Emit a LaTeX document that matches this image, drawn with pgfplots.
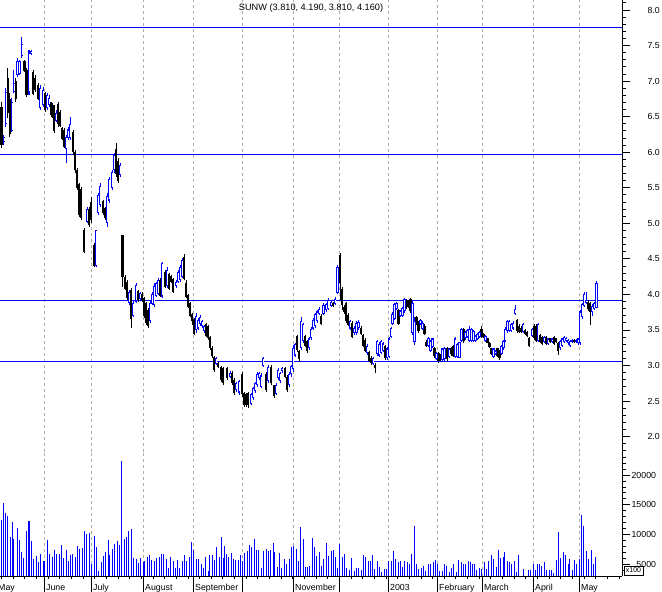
\documentclass[border=0pt]{standalone}
\usepackage{pgfplots}
\pgfplotsset{compat=1.18}
\usepackage{pgfplotstable}
\usepackage{fontspec}
\setmainfont{Liberation Sans}
\definecolor{gridgray}{RGB}{175,175,175}
\definecolor{barblue}{RGB}{0,0,255}

% down (black) bars: x o h l c
\pgfplotstableread{
x o h l c
1.5 6.64 6.70 6.06 6.10
8 7.05 7.18 6.48 6.55
10 6.75 6.83 6.21 6.25
16 7.00 7.04 6.71 6.75
24.5 7.28 7.30 7.13 7.14
26.5 7.15 7.18 6.78 6.80
33 7.13 7.16 6.80 6.82
35 7.05 7.08 6.85 6.87
38 6.95 6.97 6.73 6.75
45 6.83 6.85 6.57 6.60
51 6.70 6.71 6.49 6.52
52.5 6.66 6.69 6.48 6.50
54 6.60 6.66 6.27 6.30
58 6.68 6.71 6.35 6.40
60 6.57 6.59 6.35 6.37
62 6.34 6.35 6.17 6.19
64 6.31 6.34 6.06 6.08
73 6.28 6.31 5.96 6.00
75 6.00 6.03 5.71 5.75
77 5.75 5.78 5.47 5.50
79 5.55 5.57 5.09 5.12
81 5.48 5.51 5.05 5.08
84 4.90 4.93 4.58 4.60
89 5.20 5.23 4.95 4.97
91 5.30 5.37 5.00 5.05
94 4.70 4.72 4.38 4.40
103 5.32 5.33 5.12 5.14
105 5.22 5.23 5.05 5.07
116 6.05 6.13 5.65 5.70
118 5.88 5.92 5.57 5.60
122.5 4.84 4.84 4.10 4.25
125 4.25 4.27 4.06 4.08
127 4.18 4.20 3.92 3.95
131 4.06 4.09 3.53 3.65
138 4.05 4.06 3.90 3.92
142 4.01 4.03 3.90 3.92
144 3.95 3.97 3.67 3.70
146 3.88 3.90 3.57 3.60
148 3.78 3.81 3.53 3.56
160 4.20 4.23 3.97 3.98
165 4.32 4.34 4.09 4.10
169 4.28 4.30 4.06 4.08
171 4.26 4.27 4.16 4.17
173 4.21 4.23 4.02 4.04
184 4.52 4.57 4.20 4.22
186 4.16 4.20 3.95 3.97
188 3.99 4.00 3.81 3.82
190 3.88 3.90 3.68 3.70
192 3.72 3.74 3.57 3.62
194 3.66 3.67 3.43 3.45
206 3.58 3.60 3.40 3.42
208 3.55 3.57 3.36 3.38
210 3.40 3.42 3.22 3.24
212 3.25 3.27 3.11 3.13
214 3.12 3.14 2.91 2.94
218 3.03 3.05 2.96 2.98
221 2.98 2.99 2.77 2.80
223 2.96 2.98 2.73 2.75
227 2.96 2.98 2.80 2.82
232 2.90 2.92 2.73 2.76
234 2.80 2.82 2.59 2.61
242 2.88 2.91 2.56 2.60
244 2.62 2.63 2.42 2.45
246 2.60 2.62 2.42 2.45
248 2.62 2.63 2.40 2.44
266 2.88 2.91 2.63 2.66
271 2.98 3.01 2.73 2.76
274 2.72 2.73 2.54 2.57
285 2.97 2.98 2.82 2.84
287 2.84 2.87 2.63 2.66
297 3.42 3.43 3.19 3.22
299 3.20 3.22 3.05 3.09
305 3.42 3.43 3.26 3.28
307 3.35 3.36 3.18 3.20
321 3.70 3.72 3.57 3.58
333 3.88 3.90 3.82 3.83
340 4.56 4.58 3.92 4.16
342 4.08 4.10 3.78 3.85
344 3.82 3.85 3.72 3.75
346 3.88 3.90 3.60 3.62
348 3.71 3.74 3.55 3.57
352 3.60 3.62 3.38 3.40
361 3.53 3.55 3.43 3.44
363 3.43 3.45 3.26 3.28
365 3.36 3.38 3.19 3.21
369 3.19 3.21 3.05 3.07
371 3.11 3.13 3.01 3.04
375 3.01 3.03 2.90 2.96
385 3.27 3.29 3.08 3.10
398.5 3.78 3.80 3.57 3.59
406.5 3.92 3.94 3.80 3.82
408.5 3.89 3.92 3.81 3.82
410.5 3.93 3.95 3.74 3.76
416.5 3.68 3.70 3.57 3.58
418.5 3.60 3.62 3.46 3.48
424.5 3.56 3.58 3.43 3.44
426.5 3.33 3.36 3.26 3.27
434.5 3.25 3.26 3.11 3.13
438.5 3.17 3.19 3.04 3.06
440.5 3.14 3.16 3.06 3.08
447 3.25 3.26 3.07 3.09
451 3.25 3.26 3.14 3.16
453 3.28 3.29 3.12 3.13
463.5 3.52 3.53 3.32 3.34
481.5 3.52 3.55 3.39 3.40
483.5 3.45 3.46 3.39 3.40
487.5 3.38 3.39 3.31 3.32
489.5 3.32 3.33 3.25 3.26
491.5 3.24 3.25 3.15 3.16
497.5 3.24 3.25 3.12 3.13
499.5 3.21 3.22 3.08 3.10
517 3.64 3.66 3.46 3.48
519 3.56 3.58 3.46 3.47
521 3.53 3.55 3.46 3.47
525 3.50 3.51 3.43 3.44
527 3.47 3.48 3.40 3.41
529 3.39 3.40 3.26 3.28
534 3.56 3.58 3.36 3.38
536 3.55 3.58 3.33 3.35
540 3.43 3.45 3.32 3.33
542 3.40 3.42 3.29 3.30
546 3.40 3.42 3.29 3.30
550 3.38 3.39 3.32 3.33
554 3.40 3.42 3.29 3.30
556 3.38 3.39 3.32 3.33
558 3.32 3.33 3.15 3.20
574 3.36 3.37 3.32 3.33
588 3.90 3.92 3.77 3.79
590 3.88 3.90 3.57 3.75
}\down

% up (blue) bars: x o h l c
\pgfplotstableread{
x o h l c
4 6.14 6.24 6.10 6.21
6 6.40 6.90 6.35 6.85
12 6.30 6.76 6.28 6.70
14 6.85 7.16 6.83 6.97
17.5 7.08 7.32 7.06 7.28
19.5 7.10 7.30 7.09 7.28
22 7.35 7.62 7.33 7.52
29 6.85 7.44 6.80 7.40
31 7.38 7.44 7.36 7.42
40 6.62 6.94 6.59 6.90
43 6.66 6.92 6.64 6.88
47 6.62 6.83 6.59 6.80
49 6.66 6.80 6.64 6.76
56 6.44 6.59 6.42 6.55
66 6.05 6.24 5.85 6.21
68 6.20 6.35 6.17 6.32
70 6.20 6.49 6.17 6.40
87 5.02 5.23 5.00 5.20
96 4.40 4.91 4.38 4.90
98 5.15 5.43 5.12 5.40
100 5.26 5.57 5.23 5.52
107 5.00 5.43 4.95 5.38
109 5.32 5.65 5.29 5.62
112 5.50 5.75 5.47 5.72
114 5.75 5.99 5.71 5.96
120 5.68 5.85 5.65 5.82
129 3.88 4.06 3.85 4.04
133 3.70 3.92 3.68 3.88
136 3.90 4.16 3.88 4.13
140 3.93 4.03 3.92 4.02
150 3.62 3.92 3.60 3.88
152 3.87 4.03 3.85 4.00
154 3.85 4.16 3.82 4.12
156 3.98 4.18 3.97 4.16
158 4.00 4.23 3.99 4.20
162 3.97 4.46 3.95 4.44
167 4.12 4.38 4.09 4.35
176 4.12 4.20 4.09 4.18
178 4.17 4.34 4.16 4.32
180 4.20 4.41 4.18 4.38
182 4.25 4.51 4.23 4.48
196 3.50 3.74 3.46 3.70
198 3.52 3.67 3.50 3.64
200 3.58 3.71 3.56 3.68
202 3.55 3.64 3.53 3.62
204 3.48 3.57 3.46 3.55
216 3.02 3.12 3.00 3.10
230 2.84 2.92 2.82 2.90
236 2.66 2.77 2.63 2.75
239 2.62 2.80 2.59 2.78
251 2.46 2.62 2.44 2.60
253 2.54 2.70 2.51 2.68
255 2.64 2.77 2.62 2.75
257 2.72 2.91 2.70 2.88
259 2.82 2.91 2.80 2.89
261 2.70 2.89 2.68 2.86
263 2.99 3.12 2.98 3.10
268 2.78 3.01 2.75 2.98
276 2.60 2.75 2.59 2.72
278 2.82 2.96 2.80 2.94
280 2.78 2.91 2.75 2.89
282 2.92 2.98 2.90 2.97
289 2.72 2.91 2.70 2.88
291 2.88 3.01 2.84 2.99
293 2.95 3.29 2.91 3.25
295 3.14 3.32 3.12 3.30
301 3.25 3.68 3.22 3.62
303 3.35 3.60 3.32 3.58
309 3.25 3.40 3.22 3.38
311 3.38 3.54 3.36 3.52
313 3.52 3.67 3.50 3.64
315 3.55 3.74 3.53 3.72
317 3.62 3.78 3.60 3.76
319 3.73 3.82 3.71 3.80
323.5 3.72 3.88 3.71 3.85
326 3.78 3.88 3.75 3.86
328 3.80 3.95 3.78 3.92
331 3.84 3.92 3.82 3.90
335 3.86 3.96 3.85 3.94
337.5 4.02 4.41 4.00 4.38
350 3.52 3.64 3.50 3.62
354 3.46 3.55 3.43 3.53
356.5 3.46 3.62 3.43 3.60
358.5 3.53 3.64 3.50 3.61
367 3.17 3.30 3.15 3.28
373 3.02 3.12 3.00 3.10
377 3.16 3.36 3.13 3.34
379 3.14 3.33 3.12 3.30
381 3.18 3.36 3.16 3.34
383 3.20 3.33 3.19 3.31
387 3.10 3.26 3.08 3.24
389 3.12 3.40 3.11 3.38
391 3.40 3.54 3.39 3.53
392.5 3.58 3.75 3.57 3.73
394.5 3.66 3.88 3.64 3.86
396.5 3.80 3.90 3.78 3.88
400.5 3.70 3.78 3.68 3.77
402.5 3.70 3.82 3.68 3.81
404.5 3.76 3.95 3.74 3.93
412.5 3.46 3.92 3.43 3.88
414.5 3.33 3.68 3.29 3.62
420.5 3.58 3.65 3.57 3.64
422.5 3.51 3.62 3.50 3.60
428.5 3.27 3.40 3.26 3.39
430.5 3.21 3.36 3.19 3.35
432.5 3.26 3.39 3.25 3.38
436.5 3.09 3.19 3.08 3.18
442.5 3.08 3.25 3.06 3.24
444.5 3.09 3.26 3.05 3.25
449 3.12 3.25 3.11 3.24
455 3.12 3.40 3.11 3.38
457 3.12 3.32 3.11 3.30
459.5 3.11 3.33 3.11 3.33
461.5 3.35 3.53 3.33 3.51
465.5 3.38 3.48 3.36 3.47
467.5 3.40 3.51 3.39 3.50
469.5 3.35 3.55 3.33 3.52
471.5 3.35 3.53 3.33 3.51
473.5 3.34 3.50 3.33 3.48
475.5 3.34 3.43 3.33 3.42
477.5 3.37 3.46 3.36 3.45
479.5 3.40 3.48 3.39 3.47
485.5 3.34 3.43 3.33 3.42
493.5 3.12 3.25 3.11 3.24
495.5 3.16 3.22 3.15 3.21
501.5 3.16 3.29 3.15 3.28
503.5 3.24 3.36 3.22 3.35
505 3.34 3.54 3.33 3.52
507 3.48 3.64 3.46 3.62
509 3.49 3.64 3.47 3.62
511 3.49 3.60 3.47 3.58
513 3.52 3.62 3.50 3.60
515 3.73 3.85 3.71 3.80
523 3.47 3.60 3.46 3.58
532 3.41 3.53 3.40 3.51
538 3.35 3.60 3.33 3.58
544 3.33 3.41 3.32 3.40
548 3.30 3.39 3.29 3.38
552 3.33 3.39 3.32 3.38
560 3.24 3.36 3.22 3.35
562 3.28 3.39 3.26 3.38
564 3.33 3.41 3.32 3.40
566 3.35 3.40 3.33 3.39
568 3.31 3.37 3.29 3.36
570 3.28 3.36 3.26 3.35
572 3.33 3.37 3.32 3.36
576 3.33 3.37 3.32 3.36
578 3.31 3.39 3.29 3.38
580 3.32 3.78 3.29 3.76
582 3.68 3.88 3.66 3.86
584 3.84 4.03 3.82 4.00
586 3.88 4.04 3.86 3.92
592 3.75 3.86 3.70 3.84
594 3.80 3.90 3.78 3.88
596.5 3.81 4.19 3.81 4.16
}\up

% volume (x100)
\pgfplotstableread{
x v
1.7 12400
3.3 15300
6 13640
8 13080
10.3 9600
12.3 12100
14 9260
17.3 11100
19.3 9000
21.3 7070
24 5960
26.3 10600
29 12300
31 8930
33.3 5900
36 6400
38.3 5400
40.3 6700
43.3 5560
44.3 5560
47.3 9040
49.3 6700
52.3 6230
54.3 7360
56.7 6700
59.3 6700
61.3 8250
63.3 6060
66.3 7360
68.3 5560
70.7 6520
72.7 6700
75.3 6230
77.3 8030
79.3 7520
82.3 7750
84.3 10600
86.7 10050
89.3 10170
91.3 4950
94.3 9700
96.3 7900
98.3 3820
101 5400
103.3 6350
105.7 7020
108.3 9040
109.7 6520
112.3 7580
114.7 8370
117.3 8870
119.3 8200
121.3 22350
124.3 9200
126.3 9600
128.3 10600
131.3 10900
133.3 6060
136.3 5900
138.3 5220
140.3 6060
143.3 5400
144.3 5500
147.3 6120
149.3 6520
151.3 5730
154.3 5500
156.7 6060
159.3 6230
161.3 6700
163.3 6700
166.3 5840
168.3 4380
170.3 6120
173.3 5500
175.3 4380
177.3 5730
179.7 4380
182.3 5500
184.3 6460
186.3 5500
189 6120
191.3 8700
193.3 7360
196.3 5840
198.3 5840
201.3 5000
203.3 4380
205.3 6230
208.3 3870
209.3 6520
212.3 6520
214.3 5730
216.3 7800
219.3 6230
221.3 9500
223.3 6060
224.3 8030
226.7 6700
228.7 6230
231.7 6800
233.3 5840
235.7 5730
238.3 5730
240.3 6520
242 5450
244.3 6800
247.3 7190
249.3 8200
251.3 7900
254 9200
256 7360
258.3 7360
261.3 4380
263.3 7190
266.3 7520
268.3 7190
270.3 7360
273.3 8540
274.3 7070
277.3 4500
279.3 6800
281.3 4380
284.3 5840
286.3 5000
289.3 5840
291.3 7870
293.3 8030
296.3 7520
298.3 5500
300.3 11170
303.3 9200
305.3 4500
307.3 4500
309.3 4660
312.3 9380
314.3 7870
316.3 6350
319.3 7020
321.3 4660
323.3 5840
326.3 8540
328.3 6350
331.7 7190
333.3 7360
335.3 6120
337.3 4380
339.3 8370
342.3 6230
344.3 6700
346.3 4380
349.3 3990
351.3 6060
354.3 3820
356.3 4380
358.3 4380
361.3 3990
363.3 6520
365.3 6180
368.3 5450
370.3 5560
372.3 6520
374.3 4160
377.3 5450
379.3 4500
381.3 3650
384.3 4160
386.3 4160
388.3 5500
391.3 5500
393.3 7190
395.3 5840
398.3 5280
400.3 5500
402.3 4500
404.3 5500
407.3 5280
409.3 4950
411.3 6700
414.3 11400
416.3 4950
418.3 4160
421.3 4330
423.3 4660
425.3 3820
428.3 5000
430.3 4950
433.3 5280
435.3 5730
437.3 5000
439.3 3820
442.3 3820
444.3 4950
446.3 4660
449.3 3650
451.3 4330
453.3 5000
456.3 3650
458.3 5730
461.3 5280
463.3 5000
465.3 4950
468.3 5450
470.3 5280
472.3 4950
474.3 5000
476.3 3990
479.3 4330
481.3 4160
484.3 5280
486.3 4160
488.3 5450
491.3 6520
493.3 5840
496.3 4500
498.3 7360
500.3 6000
503.3 6180
504.3 7020
507.3 5450
509.3 5280
511.3 4950
514.3 5500
516.3 3650
518.3 6520
523.3 4160
528.3 3990
530.3 3990
533.3 5000
535.3 3990
537.3 5000
539.3 4950
541.3 4660
544.3 5280
546.3 3990
549.3 3990
551.3 3990
553.3 3480
556.3 5730
558.3 10390
560.3 6000
563.3 7020
565.3 6520
568.3 4950
569.3 5840
572.3 3990
574.3 5730
576.3 5000
579.3 5840
581.3 13250
583.3 11400
586.3 7190
588.3 5840
591.3 7360
593.3 4950
595.3 6180
}\vol

\pgfplotsset{
  common/.style={
    scale only axis, width=632pt, anchor=south west,
    xmin=-10, xmax=622,
    tick align=outside,
    axis y line*=right, axis x line*=bottom,
    axis line style={-, line width=0.8pt},
    tick style={black, line width=0.8pt},
    xmajorgrids,
    major grid style={gridgray, dash pattern=on 3pt off 3pt, line width=0.8pt},
    xtick={-4,44,91,143,193,242,293,339,388,437,482,533,579},
    tick label style={font=\fontsize{8.8}{10}\selectfont},
    /pgf/number format/assume math mode=true,
    scaled y ticks=false,
    yticklabel style={anchor=east, inner sep=0pt, xshift=30pt},
  },
  wick/.style={forget plot, draw=none, mark=none,
    error bars/.cd, y dir=plus, y explicit, error mark=none,
    error bar style={draw=#1, solid, line width=1pt, line cap=butt}},
  bodyb/.style={forget plot, draw=none, mark=none,
    error bars/.cd, y dir=plus, y explicit, error mark=none,
    error bar style={draw=black, solid, line width=2.8pt, line cap=butt}},
  bodyu/.style={forget plot, draw=none, mark=none,
    error bars/.cd, y dir=plus, y explicit, error mark=none,
    error bar style={draw=barblue, solid, line width=2.9pt, line cap=butt}},
  bodyw/.style={forget plot, draw=none, mark=none,
    error bars/.cd, y dir=plus, y explicit, error mark=none,
    error bar style={draw=white, solid, line width=0.9pt, line cap=butt}},
}

\begin{document}
\begin{tikzpicture}
\useasboundingbox (0,0) rectangle (662pt,592pt);

\begin{axis}[common, at={(-10pt,140pt)}, height=452pt,
  ymin=1.7834, ymax=8.1406,
  x axis line style={draw=none}, xtick style={draw=none}, xticklabels={},
  ytick={2,2.5,...,8}, minor ytick={1.8,1.9,...,8.11},
  yticklabel={\pgfmathprintnumber[fixed,fixed zerofill,precision=1]{\tick}},
  major tick length=8pt, minor tick length=4pt,
]
\addplot[barblue, line width=1pt, forget plot] coordinates {(-10,7.757) (622,7.757)};
\addplot[barblue, line width=1pt, forget plot] coordinates {(-10,5.97) (622,5.97)};
\addplot[barblue, line width=1pt, forget plot] coordinates {(-10,3.92) (622,3.92)};
\addplot[barblue, line width=1pt, forget plot] coordinates {(-10,3.06) (622,3.06)};
% black (down) candles
\addplot[wick=black] table[x=x, y=l, y error plus expr=\thisrow{h}-\thisrow{l}] {\down};
\addplot[bodyb] table[x=x, y=c, y error plus expr=\thisrow{o}-\thisrow{c}] {\down};
% blue (up) candles, hollow
\addplot[wick=barblue] table[x=x, y=l, y error plus expr=\thisrow{h}-\thisrow{l}] {\up};
\addplot[bodyu] table[x=x, y=o, y error plus expr=\thisrow{c}-\thisrow{o}] {\up};
\addplot[bodyw] table[x=x, y expr=\thisrow{o}+0.015, y error plus expr={max(\thisrow{c}-\thisrow{o}-0.03,0)}] {\up};
\end{axis}

\begin{axis}[common, at={(-10pt,16pt)}, height=124pt,
  ymin=3000, ymax=23880,
  xticklabels={May,June,July,August,September,,November,,2003,February,March,April,May},
  minor xtick={1.5,13.15,...,620},
  xtick style={/pgfplots/major tick length=16pt, /pgfplots/minor tick length=3pt},
  ytick style={/pgfplots/major tick length=8pt, /pgfplots/minor tick length=4pt},
  ytick={5000,10000,15000,20000}, minor ytick={4000,5000,...,23000},
  yticklabel={\pgfmathprintnumber[fixed,1000 sep={}]{\tick}},
  xticklabel style={anchor=base west, inner sep=0pt, xshift=2pt, yshift=-10.5pt},
]
\addplot[ycomb, barblue, line width=1pt, mark=none] table[x=x, y=v] {\vol};
\end{axis}

\node[font=\fontsize{9.2}{10}\selectfont] at (311pt,584pt) {SUNW (3.810, 4.190, 3.810, 4.160)};
\node[draw, line width=0.8pt, fill=white, minimum width=19pt, minimum height=9pt, inner sep=0pt, font=\fontsize{7}{8}\selectfont] at (633.5pt,21.5pt) {x100};
\end{tikzpicture}
\end{document}
